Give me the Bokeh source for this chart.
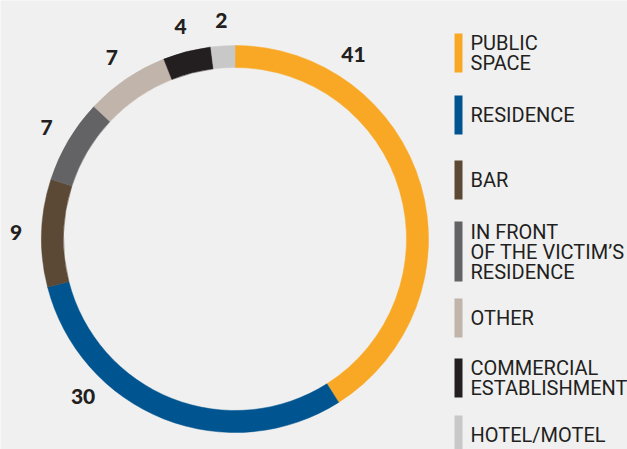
import numpy as np
from bokeh.plotting import figure
from bokeh.models import Range1d, ColumnDataSource
from bokeh.core.properties import value
from bokeh.embed import file_html
from bokeh.resources import INLINE

# ---- data ----
categories = ["PUBLIC\nSPACE", "RESIDENCE", "BAR", "IN FRONT\nOF THE VICTIM\u2019S\nRESIDENCE",
              "OTHER", "COMMERCIAL\nESTABLISHMENT", "HOTEL/MOTEL"]
values = [41, 30, 9, 7, 7, 4, 2]
colors = ["#F9A825", "#00548F", "#5B4935", "#636365", "#C1B4AB", "#231F20", "#C8C8C9"]

# ---- layout (pixels) ----
W, H = 627, 449
BG = "#F0F0F0"
cx, cy = 234.5, 210.5          # ring centre (y measured from bottom)
r_out, r_in = 193.5, 171.5
r_lab = 219
label_override = {0: 9.1, 1: 62.2}   # label position (percent along ring) for big slices
legend_tops = [33, 95, 160, 221, 298, 358, 415]
legend_x = 454
sw_w = 8
line_h = 20

p = figure(width=W, height=H, x_range=Range1d(0, W), y_range=Range1d(0, H),
           output_backend="svg", toolbar_location=None, min_border=0)
p.axis.visible = False
p.grid.visible = False
p.outline_line_color = None
p.background_fill_color = BG
p.border_fill_color = BG

vals = np.array(values, dtype=float)
total = vals.sum()
cum_end = np.cumsum(vals)
cum_start = cum_end - vals
start = np.pi / 2 - 2 * np.pi * cum_start / total
end = np.pi / 2 - 2 * np.pi * cum_end / total

src = ColumnDataSource(dict(x=[cx] * len(values), y=[cy] * len(values),
                            start=start, end=end, color=colors))
p.annular_wedge(x="x", y="y", inner_radius=r_in, outer_radius=r_out,
                start_angle="start", end_angle="end", direction="clock",
                fill_color="color", line_color="color", line_width=0.5, source=src)

# value labels
pos = (cum_start + cum_end) / 2
for i, v in label_override.items():
    pos[i] = v
ang = np.pi / 2 - 2 * np.pi * pos / total
lsrc = ColumnDataSource(dict(x=cx + r_lab * np.cos(ang), y=cy + r_lab * np.sin(ang),
                             t=[str(v) for v in values]))
p.text(x="x", y="y", text="t", source=lsrc, text_align="center", text_baseline="middle",
       text_font=value("Lato Black"), text_font_style="bold", text_font_size="21px",
       text_color="#231F20")

# legend
heights = [60 if c.count("\n") >= 2 else 39 for c in categories]
tops = np.array(legend_tops, dtype=float)
hs = np.array(heights, dtype=float)
centers_y = H - (tops + hs / 2)
p.rect(x=[legend_x + sw_w / 2] * len(values), y=centers_y, width=sw_w, height=hs,
       fill_color=colors, line_color=None)

tx, ty, tt = [], [], []
for c, yc in zip(categories, centers_y):
    lines = c.split("\n")
    n = len(lines)
    for k, ln in enumerate(lines):
        tx.append(legend_x + 16)
        ty.append(yc + ((n - 1) / 2 - k) * line_h)
        tt.append(ln)
p.text(x=tx, y=ty, text=tt, text_align="left", text_baseline="middle",
       text_font=value("Roboto"), text_font_size="20px", text_color="#231F20")

open("out.html", "w").write(file_html(p, INLINE))
